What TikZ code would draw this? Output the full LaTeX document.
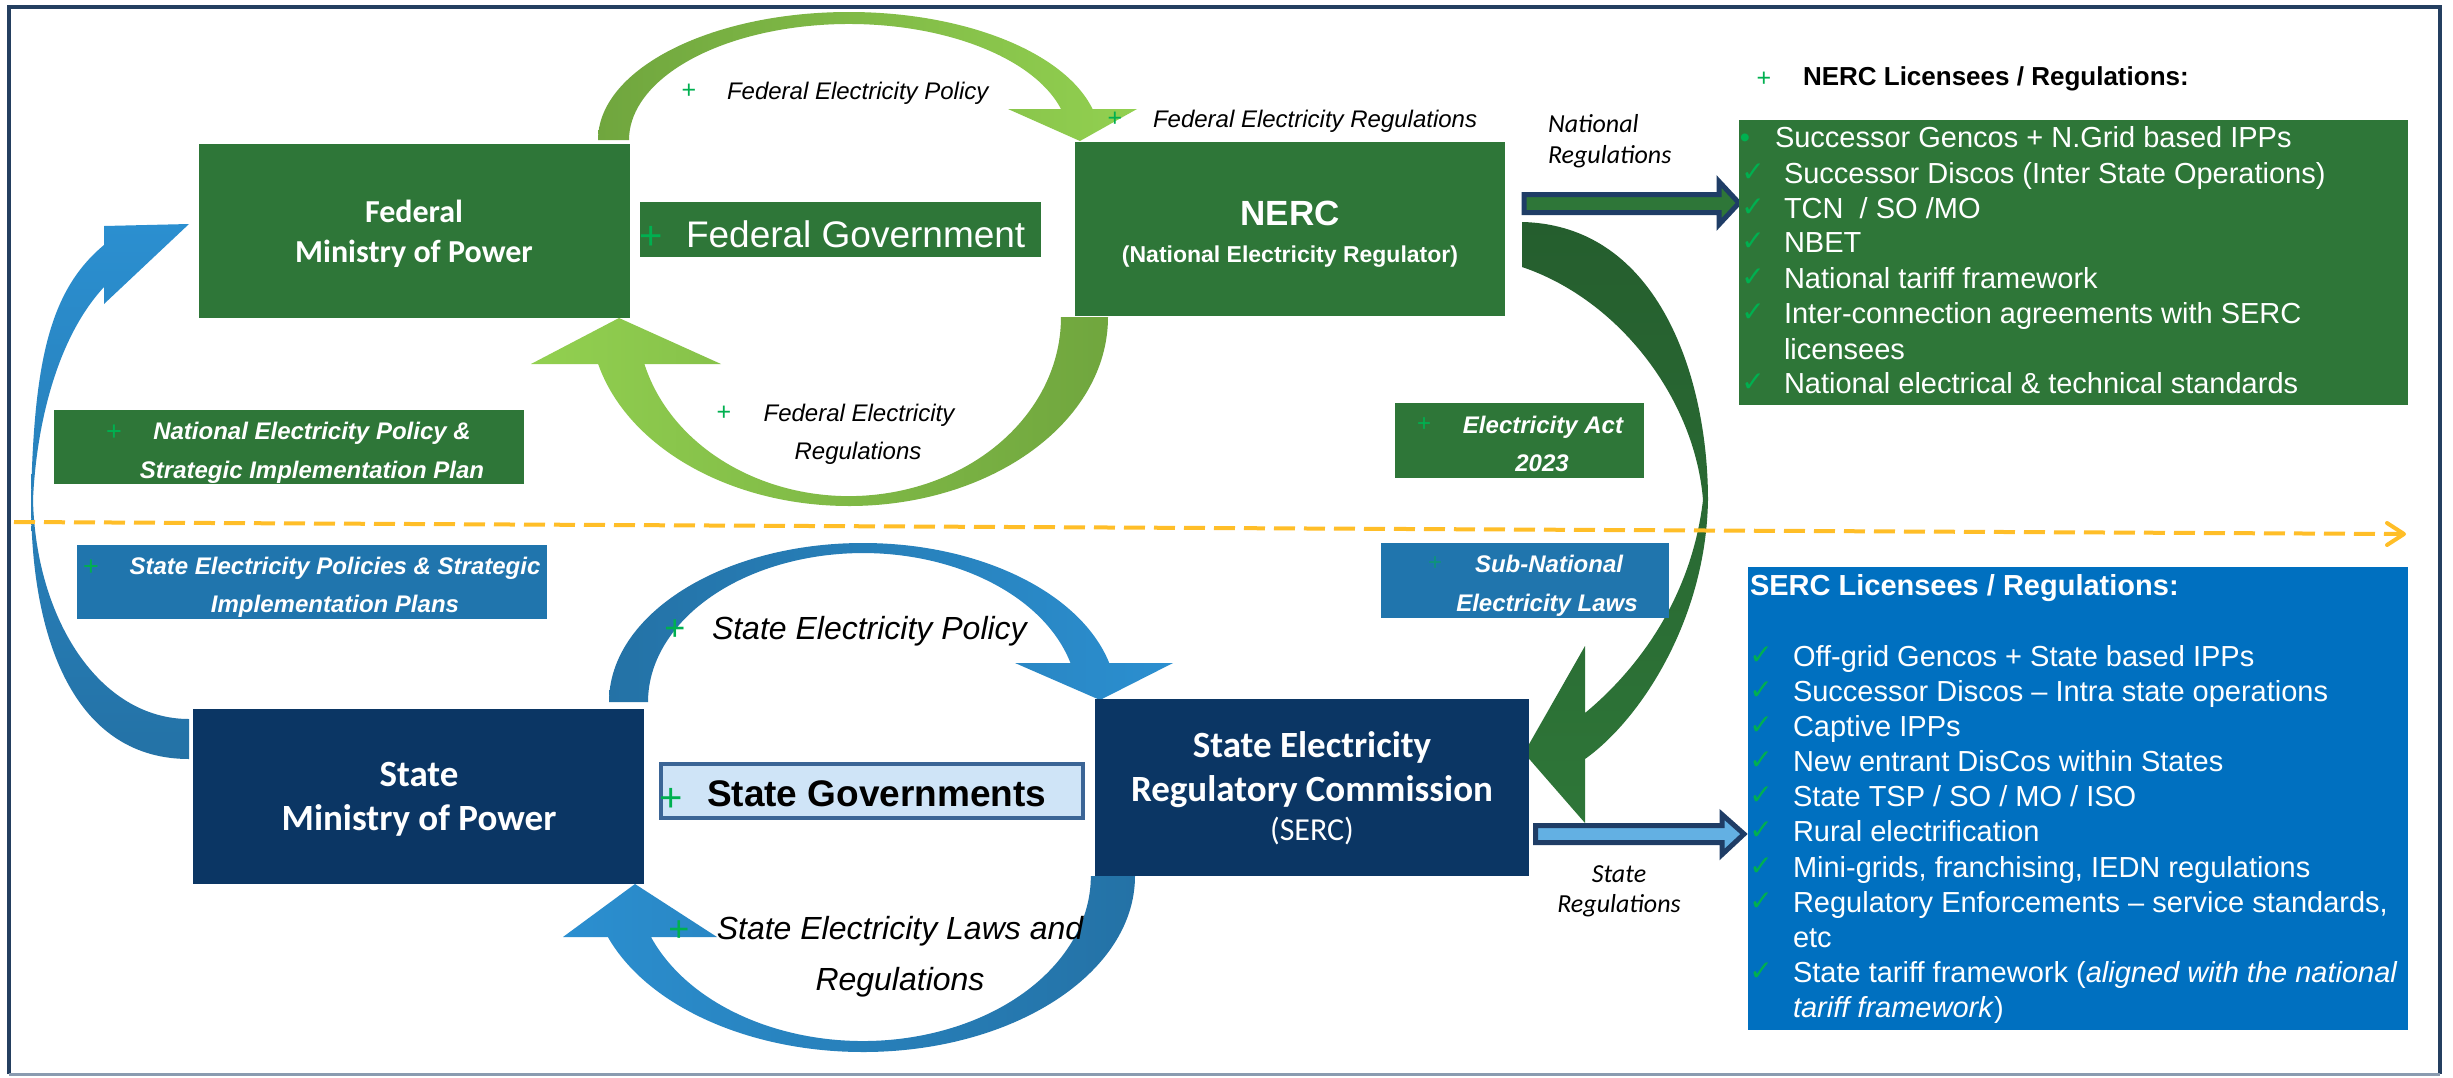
\documentclass[tikz,border=0pt]{standalone}
\usepackage{fontspec}
\setmainfont{Liberation Sans}
\newfontfamily\calfont{Carlito}
\newfontfamily\symfont{DejaVu Sans}
\usetikzlibrary{arrows.meta}
\definecolor{boxgreen}{RGB}{46,118,56}
\definecolor{navybox}{RGB}{11,54,100}
\definecolor{lblblue}{RGB}{32,117,173}
\definecolor{sercblue}{RGB}{0,112,192}
\definecolor{plusgreen}{RGB}{0,176,80}
\definecolor{darkgreenarr}{RGB}{37,94,46}
\definecolor{lightgreen}{RGB}{146,208,80}
\definecolor{midgreen}{RGB}{112,166,62}
\definecolor{brightblue}{RGB}{43,143,208}
\definecolor{darkblue}{RGB}{36,114,166}
\definecolor{outlinenavy}{RGB}{31,61,102}
\definecolor{framenavy}{RGB}{36,63,96}
\definecolor{framegray}{RGB}{138,155,176}
\definecolor{dashorange}{RGB}{255,190,40}
\definecolor{govfill}{RGB}{207,228,247}
\definecolor{govborder}{RGB}{59,101,150}
\definecolor{arrowlight}{RGB}{99,176,227}
\newcommand\fsz[1]{\fontsize{#1}{#1}\selectfont}
\begin{document}
\begin{tikzpicture}[x=1pt,y=-1pt,
  every node/.style={inner sep=0pt,outer sep=0pt},
  panel/.style={anchor=north west},
  gbox/.style={panel,fill=boxgreen},
  nbox/.style={panel,fill=navybox},
  lbox/.style={panel,fill=lblblue},
  ctext/.style={anchor=base},
  ltext/.style={anchor=base west},
  plusmark/.style={anchor=center,text=plusgreen},
  checkmk/.style={anchor=base,text=plusgreen,font=\symfont\fsz{28}},
  itemtxt/.style={anchor=base west,text=white,font=\fsz{29}},
  lblit/.style={font=\itshape\fsz{24}},
  boxit/.style={text=white,font=\bfseries\itshape\fsz{24}},
  blockarrow/.style={line width=5pt,draw=outlinenavy,line join=miter},
]
\useasboundingbox (0,0) rectangle (2453,1077);
\fill[white] (0,0) rectangle (2453,1077);
% frame
\draw[framenavy,line width=4pt] (9,1074) -- (9,7) -- (2440,7) -- (2440,1074);
\draw[framegray,line width=3pt] (9,1074) -- (2440,1074);

% ---- curved arrows ----
% federal top (policy)
\path[left color=midgreen,right color=lightgreen]
  (598,140) arc[start angle=180,end angle=346,x radius=251,y radius=128]
  -- (1137,109) -- (1080,141) -- (1008,109) -- (1061,109)
  arc[start angle=344.5,end angle=180,x radius=220,y radius=116] -- cycle;
% federal bottom (regulations)
\path[left color=lightgreen,right color=midgreen]
  (1108,317) arc[start angle=0,end angle=165.6,x radius=259,y radius=189]
  -- (531,364) -- (619,318) -- (721,364) -- (644.4,364)
  arc[start angle=164.8,end angle=0,x radius=212,y radius=179] -- cycle;
% state top (policy)
\path[left color=darkblue,right color=brightblue]
  (609,702) arc[start angle=180,end angle=345.8,x radius=254,y radius=159]
  -- (1173,663) -- (1100,700) -- (1015,663) -- (1070.5,663)
  arc[start angle=344.8,end angle=180,x radius=215,y radius=149] -- cycle;
% state bottom (laws)
\path[left color=brightblue,right color=darkblue]
  (1135,876) arc[start angle=0,end angle=159.7,x radius=272,y radius=176]
  -- (563,937) -- (635,884) -- (717,937) -- (651,937)
  arc[start angle=158.3,end angle=0,x radius=228,y radius=165] -- cycle;
% NERC -> SERC big arrow
\path[top color=darkgreenarr,bottom color=boxgreen]
  (1522,222) .. controls (1660,225) and (1708,380) .. (1708,500)
  .. controls (1706,620) and (1640,720) .. (1585,759)
  -- (1585,823) -- (1524,753) -- (1585,646) -- (1585,713)
  .. controls (1625,680) and (1690,610) .. (1703,500)
  .. controls (1695,400) and (1620,300) .. (1522,267) -- cycle;
% left blue arrow (state ministry -> federal ministry)
\path[top color=brightblue,bottom color=darkblue]
  (189,719) .. controls (100,719) and (36,620) .. (33,500)
  .. controls (36,430) and (55,340) .. (104,287)
  -- (104,304) -- (189,224) -- (104,226) -- (104,245)
  .. controls (50,290) and (34,360) .. (31,500)
  .. controls (31,650) and (80,759) .. (189,759) -- cycle;

% dashed divider
\coordinate (divL) at (14,522);
\coordinate (divR) at (2404,534);
\draw[dashorange,line width=4pt,dash pattern=on 21pt off 9pt] (divL) -- (divR);
\draw[dashorange,line width=4pt,line cap=round,line join=round] (2387,523) -- (divR) -- (2387,545);

% block arrows
\draw[blockarrow,fill=boxgreen] (1524,194.5) -- (1719,194.5) -- (1719,181.5) -- (1739,203) -- (1719,224.5) -- (1719,212.5) -- (1524,212.5) -- cycle;
\draw[blockarrow,fill=arrowlight] (1535.5,825.5) -- (1722,825.5) -- (1722,814.5) -- (1744,834) -- (1722,854.5) -- (1722,842.5) -- (1535.5,842.5) -- cycle;

% ---- boxes ----
\node[gbox,minimum width=431,minimum height=174] (fedmin) at (199,144) {};
\node[gbox,minimum width=401,minimum height=55] (fedgov) at (640,202) {};
\node[gbox,minimum width=430,minimum height=174] (nerc) at (1075,142) {};
\node[nbox,minimum width=451,minimum height=175] (stmin) at (193,709) {};
\node[panel,draw=govborder,line width=4pt,fill=govfill,minimum width=422,minimum height=54] (stgov) at (661,764) {};
\node[nbox,minimum width=434,minimum height=177] (serc) at (1095,699) {};
\node[gbox,minimum width=470,minimum height=74] (nep) at (54,410) {};
\node[lbox,minimum width=470,minimum height=74] (sep) at (77,545) {};
\node[gbox,minimum width=249,minimum height=75] (act) at (1395,403) {};
\node[lbox,minimum width=288,minimum height=75] (subnat) at (1381,543) {};
\node[gbox,minimum width=669,minimum height=285] (nerclist) at (1739,120) {};
\node[panel,fill=sercblue,minimum width=660,minimum height=463] (serclist) at (1748,567) {};

% ---- box texts ----
\node[ctext,text=white,font=\calfont\bfseries\fsz{32}] (fedminA) at (414,222) {Federal};
\node[ctext,text=white,font=\calfont\bfseries\fsz{32}] (fedminB) at (414,262) {Ministry of Power};
\node[plusmark,font=\fsz{40}] (fedgovP) at (651,238) {+};
\node[ltext,text=white,font=\fsz{37}] (fedgovT) at (686,247) {Federal Government};
\node[ctext,text=white,font=\bfseries\fsz{35}] (nercA) at (1290,225) {NERC};
\node[ctext,text=white,font=\bfseries\fsz{23}] (nercB) at (1290,262) {(National Electricity Regulator)};
\node[ctext,text=white,font=\calfont\bfseries\fsz{37}] (stminA) at (419,786) {State};
\node[ctext,text=white,font=\calfont\bfseries\fsz{37}] (stminB) at (419,830) {Ministry of Power};
\node[plusmark,font=\fsz{40}] (stgovP) at (671,800) {+};
\node[ltext,font=\bfseries\fsz{37}] (stgovT) at (707,806) {State Governments};
\node[ctext,text=white,font=\calfont\bfseries\fsz{37}] (sercA) at (1312,757) {State Electricity};
\node[ctext,text=white,font=\calfont\bfseries\fsz{37}] (sercB) at (1312,801) {Regulatory Commission};
\node[ctext,text=white,font=\calfont\fsz{32}] (sercC) at (1312,840) {(SERC)};

\node[plusmark,font=\fsz{27}] (nepP) at (114,433) {+};
\node[ctext,boxit] (nepA) at (312,439) {National Electricity Policy \&};
\node[ctext,boxit] (nepB) at (312,478) {Strategic Implementation Plan};
\node[plusmark,font=\fsz{27}] (sepP) at (91,568) {+};
\node[ctext,boxit] (sepA) at (335,574) {State Electricity Policies \& Strategic};
\node[ctext,boxit] (sepB) at (335,612) {Implementation Plans};
\node[plusmark,font=\fsz{24}] (actP) at (1424,425) {+};
\node[ctext,boxit] (actA) at (1543,433) {Electricity Act};
\node[ctext,boxit] (actB) at (1542,471) {2023};
\node[plusmark,font=\fsz{24},text=plusgreen!55!lblblue] (subP) at (1435,564) {+};
\node[ctext,boxit] (subA) at (1549,572) {Sub-National};
\node[ctext,boxit] (subB) at (1547,611) {Electricity Laws};

% ---- arrow labels ----
\node[plusmark,font=\fsz{25}] (fepP) at (689,91) {+};
\node[ltext,lblit] (fepT) at (727,99) {Federal Electricity Policy};
\node[plusmark,font=\fsz{25}] (ferP) at (1115,119) {+};
\node[ltext,lblit] (ferT) at (1153,127) {Federal Electricity Regulations};
\node[plusmark,font=\fsz{25}] (fer2P) at (724,413) {+};
\node[ctext,lblit] (fer2A) at (859,421) {Federal Electricity};
\node[ctext,lblit] (fer2B) at (858,459) {Regulations};
\node[plusmark,font=\fsz{36}] (sepolP) at (675,630) {+};
\node[ltext,font=\itshape\fsz{32}] (sepolT) at (712,639) {State Electricity Policy};
\node[plusmark,font=\fsz{36}] (selP) at (679,931) {+};
\node[ctext,font=\itshape\fsz{32}] (selA) at (900,939) {State Electricity Laws and};
\node[ctext,font=\itshape\fsz{32}] (selB) at (900,990) {Regulations};
\node[ltext,font=\calfont\itshape\fsz{26}] (natA) at (1548,132) {National};
\node[ltext,font=\calfont\itshape\fsz{26}] (natB) at (1548,163) {Regulations};
\node[ctext,font=\calfont\itshape\fsz{26}] (strA) at (1619,882) {State};
\node[ctext,font=\calfont\itshape\fsz{26}] (strB) at (1619,912) {Regulations};

% ---- NERC list ----
\node[plusmark,font=\fsz{25}] (nhP) at (1764,79) {+};
\node[ltext,font=\bfseries\fsz{26}] (nhT) at (1803,85) {NERC Licensees / Regulations:};
\node[anchor=base,text=plusgreen,font=\fsz{29}] (n1b) at (1745,147) {•};
\node[itemtxt] (n1) at (1775,147) {Successor Gencos + N.Grid based IPPs};
\node[checkmk] (n2c) at (1753,181) {✓};
\node[itemtxt] (n2) at (1784,183) {Successor Discos (Inter State Operations)};
\node[checkmk] (n3c) at (1753,216) {✓};
\node[itemtxt] (n3) at (1784,218) {TCN\ \ / SO /MO};
\node[checkmk] (n4c) at (1753,250) {✓};
\node[itemtxt] (n4) at (1784,252) {NBET};
\node[checkmk] (n5c) at (1753,286) {✓};
\node[itemtxt] (n5) at (1784,288) {National tariff framework};
\node[checkmk] (n6c) at (1753,321) {✓};
\node[itemtxt] (n6) at (1784,323) {Inter-connection agreements with SERC};
\node[itemtxt] (n6b) at (1784,359) {licensees};
\node[checkmk] (n7c) at (1753,391) {✓};
\node[itemtxt] (n7) at (1784,393) {National electrical \& technical standards};

% ---- SERC list ----
\node[ltext,text=white,font=\bfseries\fsz{29}] (shT) at (1750,595) {SERC Licensees / Regulations:};
\node[checkmk] (s1c) at (1761,664) {✓};
\node[itemtxt] (s1) at (1793,666) {Off-grid Gencos + State based IPPs};
\node[checkmk] (s2c) at (1761,699) {✓};
\node[itemtxt] (s2) at (1793,701) {Successor Discos – Intra state operations};
\node[checkmk] (s3c) at (1761,734) {✓};
\node[itemtxt] (s3) at (1793,736) {Captive IPPs};
\node[checkmk] (s4c) at (1761,769) {✓};
\node[itemtxt] (s4) at (1793,771) {New entrant DisCos within States};
\node[checkmk] (s5c) at (1761,804) {✓};
\node[itemtxt] (s5) at (1793,806) {State TSP / SO / MO / ISO};
\node[checkmk] (s6c) at (1761,839) {✓};
\node[itemtxt] (s6) at (1793,841) {Rural electrification};
\node[checkmk] (s7c) at (1761,875) {✓};
\node[itemtxt] (s7) at (1793,877) {Mini-grids, franchising, IEDN regulations};
\node[checkmk] (s8c) at (1761,910) {✓};
\node[itemtxt] (s8) at (1793,912) {Regulatory Enforcements – service standards,};
\node[itemtxt] (s8b) at (1793,947) {etc};
\node[checkmk] (s9c) at (1761,980) {✓};
\node[itemtxt] (s9) at (1793,982) {State tariff framework (\textit{aligned with the national}};
\node[itemtxt] (s9b) at (1793,1017) {\textit{tariff framework})};
\end{tikzpicture}
\end{document}
